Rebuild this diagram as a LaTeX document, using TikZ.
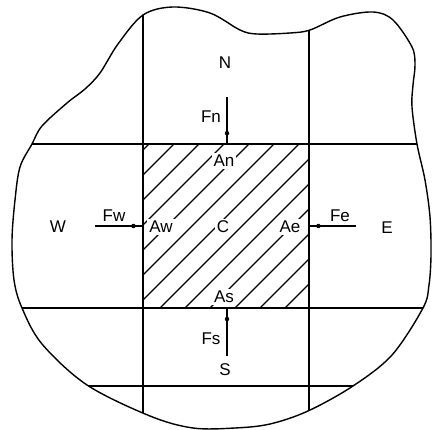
\documentclass[tikz,border=0pt]{standalone}
\usepackage{fontspec}
\setmainfont{Liberation Sans}
\begin{document}
\begin{tikzpicture}[x=1pt,y=-1pt,
  gridline/.style={line width=1.4pt},
  hatchline/.style={line width=1.1pt},
  lbl/.style={font=\fontsize{17}{17}\selectfont, inner sep=1pt},
  albl/.style={lbl, fill=white, inner sep=2pt},
  flux/.style={line width=1.3pt},
  fdot/.style={circle, fill=black, inner sep=0pt, minimum size=4.5pt}]
\useasboundingbox (0,0) rectangle (432,430);
% outline of the domain
\def\outline{plot[smooth cycle, tension=0.55] coordinates {
  (143,15) (173,7) (210,13) (240,30) (257,34) (290,33) (310,30) (340,17)
  (373,12) (393,20) (412,47) (415,65) (413,85) (412,107) (417,144)
  (425,180) (430,217) (431,255) (429,285) (423,308) (392,355) (353,386)
  (308,411) (270,424) (235,428) (193,428) (150,416) (87,385) (42,344)
  (22,308) (14,280) (12,240) (15,200) (20,167) (32,144) (42,126)
  (67,103) (85,89) (100,73) (118,44)}}
\draw[gridline] \outline;
\begin{scope}
  \clip \outline;
  \draw[gridline] (143,0) -- (143,430);
  \draw[gridline] (309,0) -- (309,430);
  \draw[gridline] (0,144) -- (432,144);
  \draw[gridline] (0,308) -- (432,308);
  \draw[gridline] (0,386) -- (432,386);
\end{scope}
% hatched control volume
\begin{scope}
  \clip (143,144) rectangle (309,308);
  \foreach \c in {293,318,...,593}
    \draw[hatchline] (\c-330,330) -- (\c-120,120);
\end{scope}
% cell labels
\node[lbl] (N) at (225,63) {N};
\node[lbl] (S) at (225,370) {S};
\node[lbl] (W) at (58,227) {W};
\node[lbl] (E) at (387,228) {E};
\node[albl] (C) at (223,227) {C};
\node[albl] (An) at (224,161) {An};
\node[albl] (As) at (224,297) {As};
\node[albl] (Aw) at (161,227) {Aw};
\node[albl] (Ae) at (290,227) {Ae};
% flux labels
\node[lbl] (Fn) at (211,117) {Fn};
\node[lbl] (Fs) at (211,339) {Fs};
\node[lbl] (Fw) at (114,216) {Fw};
\node[lbl] (Fe) at (340,216) {Fe};
% flux arrows
\coordinate (fnA) at (227,97);  \coordinate (fnB) at (227,144);
\coordinate (fsA) at (227,356); \coordinate (fsB) at (227,308);
\coordinate (fwA) at (95,226);  \coordinate (fwB) at (143,226);
\coordinate (feA) at (356,226); \coordinate (feB) at (309,226);
\draw[flux] (fnA) -- (fnB) node[fdot, pos=0.77] (dn) {};
\draw[flux] (fsA) -- (fsB) node[fdot, pos=0.77] (ds) {};
\draw[flux] (fwA) -- (fwB) node[fdot, pos=0.8] (dw) {};
\draw[flux] (feA) -- (feB) node[fdot, pos=0.8] (de) {};
\end{tikzpicture}
\end{document}
